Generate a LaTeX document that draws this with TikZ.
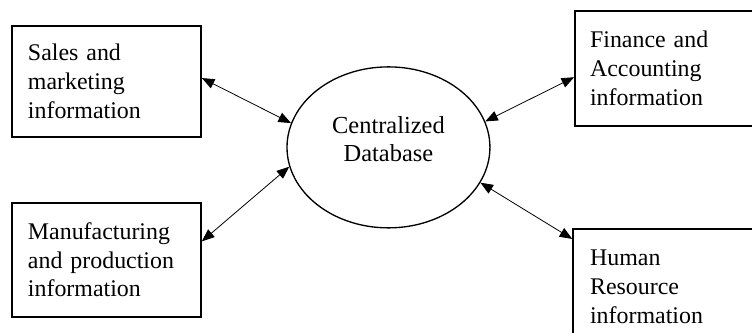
\documentclass[tikz,border=0pt]{standalone}
\usepackage{fontspec}
\setmainfont{Liberation Serif}
\usepackage{tikz}
\usetikzlibrary{arrows.meta,shapes.geometric}
\tikzset{
    infobox/.style={rectangle, draw, line width=1.2pt, align=left, inner xsep=0.42cm, inner ysep=0pt, font=\fontsize{18pt}{21.6pt}\selectfont},
    hub/.style={ellipse, draw, line width=1pt, align=center, minimum width=5.37cm, minimum height=4.26cm, inner sep=0pt, font=\fontsize{18.4pt}{21.6pt}\selectfont},
    link/.style={{Triangle[length=9.5pt,width=7.5pt]}-{Triangle[length=9.5pt,width=7.5pt]}, line width=0.6pt}
}
\begin{document}
\begin{tikzpicture}
    \useasboundingbox (-10.28,-4.91) rectangle (9.62,3.90);
    \clip (-10.28,-4.91) rectangle (9.62,3.90);
    \node[hub] (db) at (0,0) {Centralized\\Database\rule[-12.75pt]{0pt}{0pt}};
    \node[infobox, text width=4.16cm, minimum height=2.94cm] (sales) at (-7.46,1.746) {Sales and\\marketing\\information};
    \node[infobox, text width=4.16cm, minimum height=3.02cm] (mfg) at (-7.46,-2.977) {Manufacturing\\and production\\information};
    \node[infobox, text width=4.49cm, inner xsep=0.4cm, minimum height=3.04cm] (fin) at (7.58,2.09) {Finance and\\Accounting\\information};
    \node[infobox, text width=4.49cm, inner xsep=0.45cm, minimum height=3.07cm] (hr) at (7.58,-3.69) {Human\\Resource\\information};
    \draw[link] (sales.2) -- (db.166);
    \draw[link] (mfg.11) -- (db.191);
    \draw[link] (fin.185) -- (db.15);
    \draw[link] (hr.155) -- (db.339);
\end{tikzpicture}
\end{document}
